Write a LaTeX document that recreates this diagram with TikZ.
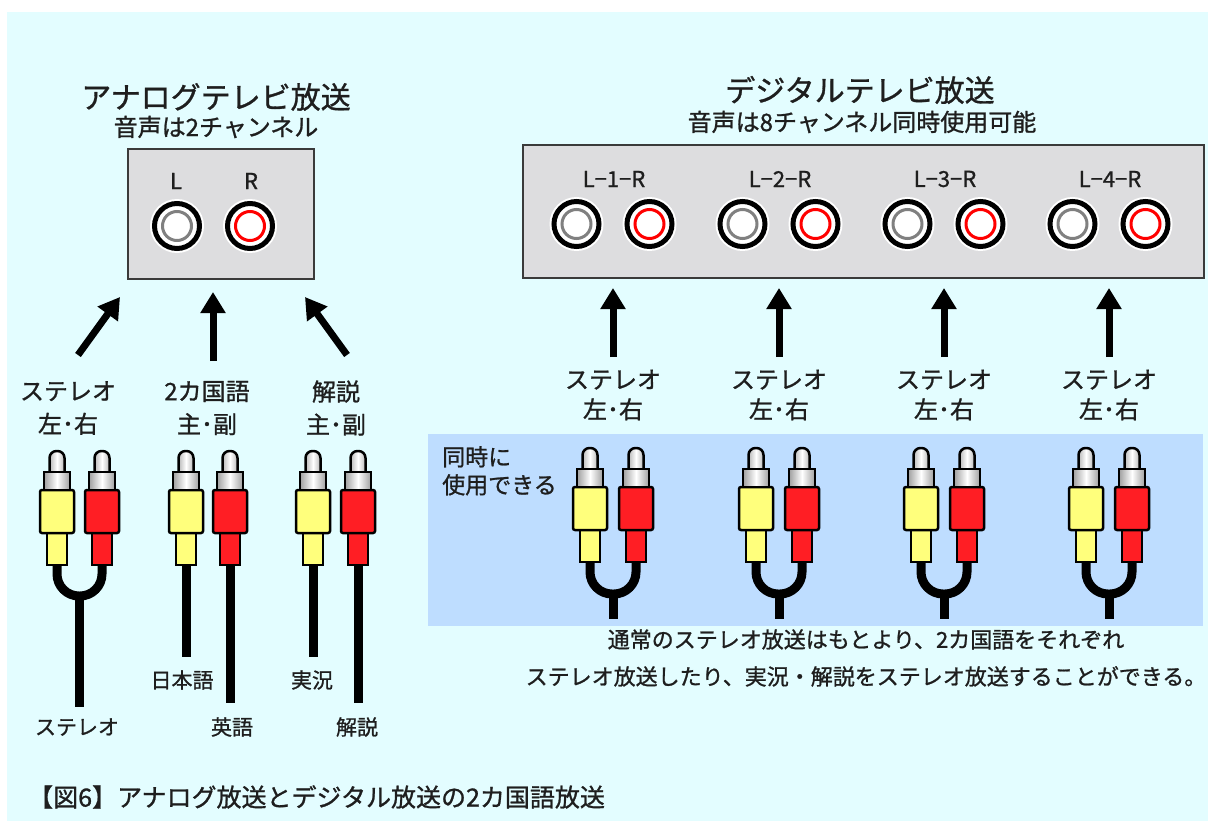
\documentclass[tikz,border=0pt]{standalone}
\usepackage{fontspec}
\setmainfont[FakeBold=1]{Noto Sans CJK JP}
\usetikzlibrary{arrows.meta}

\definecolor{bgcyan}{HTML}{E3FDFF}
\definecolor{panelblue}{HTML}{BEDDFF}
\definecolor{boxgray}{HTML}{DDDDDF}
\definecolor{boxline}{HTML}{3A3A3A}
\definecolor{plugyellow}{HTML}{FFFF7C}
\definecolor{plugred}{HTML}{FF1E24}
\definecolor{inkc}{HTML}{1E1E1E}

% one RCA plug: x centre, y of the pin top, body colour
\newcommand\rcaplug[3]{%
  \begin{scope}[shift={(#1,#2)}]
    \draw[plugline, fill=#3] (-10,82) rectangle (10,114);
    \draw[plugline, fill=#3, rounded corners=2pt] (-17,39) rectangle (17,82);
    \draw[plugline, left color=gray!55, right color=gray!55, middle color=white, rounded corners=7pt]
      (-7.5,26) -- (-7.5,0) -- (7.5,0) -- (7.5,26);
    \draw[plugline, left color=gray!75, right color=gray!75, middle color=white] (-13,21) rectangle (13,39);
  \end{scope}}

% one panel jack: name, x, y, ring colour
\newcommand\panjack[4]{%
  \node[circle, minimum size=54pt, inner sep=0pt, fill=white] (#1) at (#2,#3) {};
  \draw[black, line width=5pt, fill=white] (#1.center) circle (22.5pt);
  \draw[#4, line width=3pt] (#1.center) circle (14.5pt);}

\begin{document}
\begin{tikzpicture}[x=1pt, y=-1pt,
  every node/.style={inner sep=0pt, text=inkc},
  titletext/.style={font=\fontsize{30}{34}\selectfont},
  subtext/.style={font=\fontsize{24}{28}\selectfont},
  lbltext/.style={font=\fontsize{24}{33}\selectfont, align=center},
  rlbltext/.style={font=\fontsize{24}{30}\selectfont, align=center},
  smalltext/.style={font=\fontsize{21}{24}\selectfont},
  jacklbl/.style={font=\fontsize{22}{24}\selectfont},
  notetext/.style={font=\fontsize{22}{37}\selectfont, align=center},
  panelbox/.style={draw=boxline, line width=2pt, fill=boxgray},
  bigarrow/.style={line width=7pt, -{Triangle[length=21pt, width=24pt]}},
  cable/.style={line width=9pt, black},
  plugline/.style={line width=2.5pt, black},
]
\useasboundingbox (0,0) rectangle (1208,821);
\fill[white] (0,0) rectangle (1208,821);
\fill[bgcyan] (7,12) rectangle (1208,821);

% ---------------- analogue side ----------------
\node[titletext] (atitle) at (216,97) {アナログテレビ放送};
\node[subtext] (asub) at (216,127) {音声は2チャンネル};

\node[panelbox, minimum width=186pt, minimum height=130pt, anchor=north west] (abox) at (127,148) {};
\node[jacklbl] (aL) at (176,181) {L};
\node[jacklbl] (aR) at (251,181) {R};
\panjack{ajL}{177}{226}{gray}
\panjack{ajR}{250}{226}{red}

\coordinate (aa1s) at (78,355);  \coordinate (aa1e) at (120,297);
\coordinate (aa2s) at (213,361); \coordinate (aa2e) at (213,292);
\coordinate (aa3s) at (347,355); \coordinate (aa3e) at (305,297);
\draw[bigarrow] (aa1s) -- (aa1e);
\draw[bigarrow] (aa2s) -- (aa2e);
\draw[bigarrow] (aa3s) -- (aa3e);

\node[lbltext] (alab1) at (68,408) {ステレオ\\左･右};
\node[lbltext] (alab2) at (207,408) {2カ国語\\主･副};
\node[lbltext] (alab3) at (336,408) {解説\\主･副};

% cables
\draw[cable, rounded corners=22pt] (57,555) -- (57,596) -- (102,596) -- (102,555);
\draw[cable] (79.5,592) -- (79.5,707);
\draw[cable] (186,555) -- (186,657);
\draw[cable] (230,555) -- (230,703);
\draw[cable] (313,555) -- (313,657);
\draw[cable] (358,555) -- (358,703);

\rcaplug{57}{451}{plugyellow}
\rcaplug{102}{451}{plugred}
\rcaplug{186}{451}{plugyellow}
\rcaplug{230}{451}{plugred}
\rcaplug{313}{451}{plugyellow}
\rcaplug{358}{451}{plugred}

\node[smalltext] (c1) at (77,727) {ステレオ};
\node[smalltext] (c2) at (182,680) {日本語};
\node[smalltext] (c3) at (232,727) {英語};
\node[smalltext] (c4) at (312,680) {実況};
\node[smalltext] (c5) at (357,727) {解説};

% ---------------- digital side ----------------
\node[titletext] (dtitle) at (860,90) {デジタルテレビ放送};
\node[subtext] (dsub) at (862,122) {音声は8チャンネル同時使用可能};

\node[panelbox, minimum width=681pt, minimum height=133pt, anchor=north west] (dbox) at (522,144) {};

\fill[panelblue] (428,434) rectangle (1203,626);
\node[font=\fontsize{23}{28}\selectfont, align=left, anchor=north west] (simul) at (442,446) {同時に\\使用できる};

\foreach \gx/\n in {613/1, 779/2, 944/3, 1109/4} {
  \node[jacklbl] (dl\n) at (\gx+1,179) {L−\n−R};
  \panjack{djL\n}{\gx-36.5}{224}{gray}
  \panjack{djR\n}{\gx+36.5}{224}{red}
  \coordinate (da\n s) at (\gx,357);
  \coordinate (da\n e) at (\gx,288);
  \draw[bigarrow] (da\n s) -- (da\n e);
  \node[rlbltext] (dlab\n) at (\gx,395) {ステレオ\\左･右};
  \draw[cable, rounded corners=22pt] (\gx-23,552) -- (\gx-23,594) -- (\gx+23,594) -- (\gx+23,552);
  \draw[cable] (\gx,590) -- (\gx,619);
  \rcaplug{\gx-23}{448}{plugyellow}
  \rcaplug{\gx+23}{448}{plugred}
}

\node[notetext] (note) at (866,658) {通常のステレオ放送はもとより、2カ国語をそれぞれ\\ステレオ放送したり、実況・解説をステレオ放送することができる。};

% caption
\node[font=\fontsize{25}{28}\selectfont, anchor=west] (caption) at (28,797) {【図6】アナログ放送とデジタル放送の2カ国語放送};
\end{tikzpicture}
\end{document}
